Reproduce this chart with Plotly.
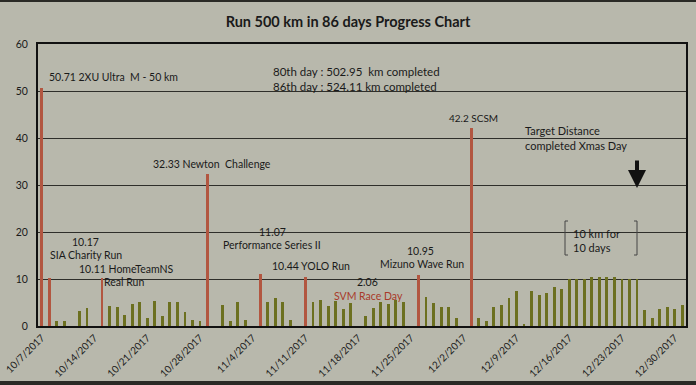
import plotly.graph_objects as go
import pandas as pd

start = "2017-10-07"
km = [50.71, 10.17, 1.0, 1.0, 0, 3.1, 3.9, 0, 10.11, 4.2,
      4.0, 2.3, 4.6, 5.1, 1.6, 5.3, 2.1, 5.1, 5.1, 2.9,
      1.2, 1.0, 32.33, 0, 4.4, 1.0, 5.1, 1.3, 0, 11.07,
      5.1, 5.9, 5.1, 1.3, 0, 10.44, 5.1, 5.6, 4.2, 5.3,
      3.6, 4.9, 0, 2.06, 3.9, 5.1, 4.6, 5.5, 5.1, 0,
      10.95, 6.1, 4.9, 4.0, 4.0, 1.6, 0, 42.2, 1.8, 1.0,
      4.0, 4.5, 5.9, 7.4, 0.5, 7.4, 6.5, 7.0, 8.4, 7.8,
      10.1, 10.1, 10.1, 10.4, 10.5, 10.4, 10.5, 10.1, 9.9, 9.9,
      3.5, 1.8, 3.6, 4.0, 3.6, 4.5]
event_days = [0, 1, 8, 22, 29, 35, 50, 57]

dates = pd.date_range(start, periods=len(km), freq="D")
tick_dates = dates[::7]

RED = "#b25640"
OLIVE = "#6c7020"
colors = [RED if i in event_days else OLIVE for i in range(len(km))]

fig = go.Figure()
fig.add_trace(go.Bar(x=dates, y=km, marker=dict(color=colors, line=dict(width=0)),
                     width=0.38 * 86400000, showlegend=False))

FONT = "Lato"
L, T, R, B = 38, 44, 686, 326
PW, PH = R - L, B - T

def px(x):
    return (x - L) / PW

def py(y):
    return (B - y) / PH

def txt(x, y, s, size=10.5, color="#1a1a1a", anchor="left"):
    fig.add_annotation(x=px(x), y=py(y), xref="paper", yref="paper", text=s,
                       showarrow=False, xanchor=anchor, yanchor="middle",
                       font=dict(family=FONT, size=size, color=color))

txt(47, 77, "50.71 2XU Ultra  M - 50 km")
txt(271, 71, "80th day : 502.95  km completed", 11.5)
txt(271, 86, "86th day : 524.11 km completed", 11.5)
txt(151, 164, "32.33 Newton  Challenge")
txt(447, 118, "42.2 SCSM", 10)
txt(523, 130, "Target Distance", 11)
txt(523, 145, "completed Xmas Day", 11)
txt(571, 233, "10 km for", 11)
txt(571, 248, "10 days", 11)
txt(70, 242, "10.17")
txt(48, 255, "SIA Charity Run")
txt(77, 269, "10.11 HomeTeamNS")
txt(102, 282, "Real Run")
txt(257, 232, "11.07")
txt(221, 245, "Performance Series II")
txt(270, 266, "10.44 YOLO Run")
txt(355, 282, "2.06")
txt(332, 296, "SVM Race Day", 10.5, "#a83a2a")
txt(405, 251, "10.95")
txt(378, 264, "Mizuno Wave Run")

# arrow
fig.add_annotation(x=px(637), y=py(188), xref="paper", yref="paper",
                   ax=0, ay=-29, showarrow=True, arrowhead=2, arrowsize=0.9,
                   arrowwidth=4, arrowcolor="#111111", text="")

# brackets
def bracket(x, left=True):
    d = 3 if left else -3
    fig.add_shape(type="path", xref="paper", yref="paper",
                  path=f"M {px(x + d)},{py(221)} L {px(x)},{py(221)} L {px(x)},{py(255)} L {px(x + d)},{py(255)}",
                  line=dict(color="#444444", width=1))

bracket(565, True)
bracket(637, False)

# dark strips at image edges
fig.add_shape(type="rect", xref="paper", yref="paper", x0=-0.1, x1=1.1,
              y0=py(385), y1=py(381), fillcolor="#2a2a26", line=dict(width=0), layer="above")
fig.add_shape(type="rect", xref="paper", yref="paper", x0=-0.1, x1=1.1,
              y0=py(2), y1=py(-2), fillcolor="#2a2a26", line=dict(width=0), layer="above")

BG = "#b8b8ac"
fig.update_layout(
    width=696, height=385,
    margin=dict(l=L, r=696 - R, t=T, b=385 - B, autoexpand=False),
    paper_bgcolor=BG, plot_bgcolor=BG,
    title=dict(text="<b>Run 500 km in 86 days Progress Chart</b>", x=0.5, xanchor="center",
               y=1 - 22 / 385, yanchor="middle",
               font=dict(family=FONT, size=14.5, color="#1a1a1a")),
    font=dict(family=FONT, size=10.5, color="#1a1a1a"),
    bargap=0,
)
fig.update_xaxes(type="date", automargin=False,
                 range=[dates[0] - pd.Timedelta(hours=12), dates[-1] + pd.Timedelta(hours=12)],
                 tickvals=tick_dates, tickformat="%-m/%-d/%Y", tickangle=-45,
                 ticks="", showgrid=False, showline=True, linecolor="#111111", linewidth=2,
                 mirror=True, tickfont=dict(family=FONT, size=10, color="#1a1a1a"))
fig.update_yaxes(range=[0, 60], tickvals=[0, 10, 20, 30, 40, 50, 60], ticks="",
                 automargin=False, ticklabelstandoff=6,
                 showgrid=True, gridcolor="#2e2e2a", gridwidth=1, zeroline=False,
                 showline=True, linecolor="#111111", linewidth=2, mirror=True,
                 tickfont=dict(family=FONT, size=10.5, color="#1a1a1a"))

fig.write_html("out.html", config={"displayModeBar": False},
               post_script="document.body.style.margin='0px';document.body.style.overflow='hidden';")
